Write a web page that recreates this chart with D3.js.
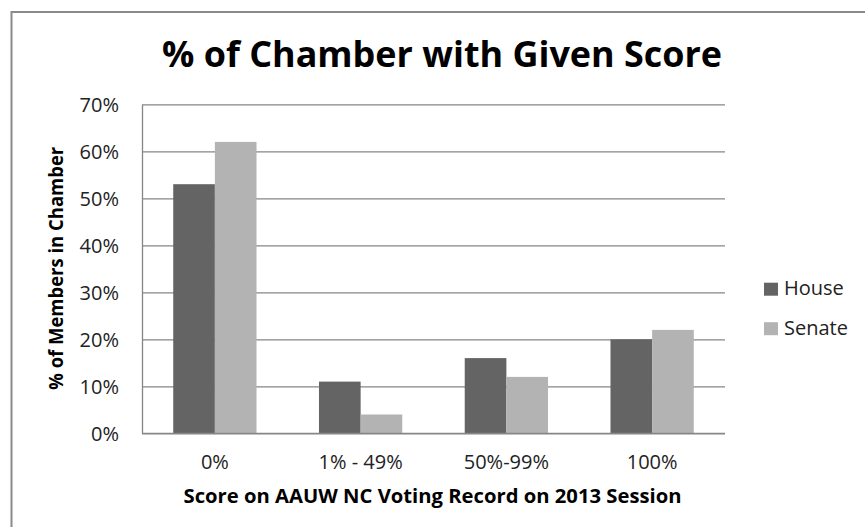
<!DOCTYPE html>
<html>
<head>
<meta charset="utf-8">
<script src="https://cdn.jsdelivr.net/npm/d3@7"></script>
<style>
	body { margin: 0; background: #fff; }
	svg { display: block; }
	text { font-family: "Open Sans", "DejaVu Sans", sans-serif; }
	.axis .domain { stroke: #868686; stroke-width: 1.3; }
	.axis .tick line { stroke: #868686; stroke-width: 1.3; }
	.axis .tick text { fill: #222; font-size: 20px; }
</style>
</head>
<body>
<div id="chart"></div>
<script>
// chart data
var categories = ["0%", "1% - 49%", "50%-99%", "100%"];
var seriesNames = ["House", "Senate"];
var house = [0.53, 0.11, 0.16, 0.20];
var senate = [0.62, 0.04, 0.12, 0.22];
var yTicks = [0, 0.1, 0.2, 0.3, 0.4, 0.5, 0.6, 0.7];
var seriesColors = ["#646464", "#b3b3b3"];

var width = 865, height = 527;
var plot = {left: 142, right: 725, top: 104.3, bottom: 433.3};

var svg = d3.select("#chart").append("svg")
	.attr("width", width)
	.attr("height", height);

// chart area border (runs off the right and bottom of the picture)
svg.append("rect")
	.attr("x", 11.5)
	.attr("y", 12)
	.attr("width", width + 10)
	.attr("height", height + 10)
	.attr("fill", "#fff")
	.attr("stroke", "#8a8a8a")
	.attr("stroke-width", 2);

var x0 = d3.scaleBand()
	.domain(categories)
	.range([plot.left, plot.right])
	.padding(0);

// excel style: gap width 150% of a bar
var barW = x0.bandwidth() / 3.5;
var x1 = d3.scaleBand()
	.domain(seriesNames)
	.range([0, barW * 2]);

var y = d3.scaleLinear()
	.domain([0, 0.7])
	.range([plot.bottom, plot.top]);

// gridlines + y labels
var yAxis = svg.append("g")
	.attr("class", "axis y-axis")
	.attr("transform", "translate(" + plot.left + ",0)")
	.call(d3.axisLeft(y)
		.tickValues(yTicks)
		.tickFormat(d3.format(".0%"))
		.tickSize(-(plot.right - plot.left))
		.tickSizeOuter(0)
		.tickPadding(23));
yAxis.selectAll(".tick text")
	.attr("dy", "0.36em");

// bars
var rows = categories.map(function(c, i) {
	return {cat: c, values: [
		{name: seriesNames[0], v: house[i]},
		{name: seriesNames[1], v: senate[i]}
	]};
});

var groups = svg.append("g")
	.attr("class", "bars")
	.selectAll("g")
	.data(rows)
	.enter()
		.append("g")
		.attr("transform", function(d) {
			return "translate(" + (x0(d.cat) + x0.bandwidth() / 2 - barW) + ",0)";
		});

groups.selectAll("rect")
	.data(function(d) { return d.values; })
	.enter()
		.append("rect")
		.attr("x", function(d) { return x1(d.name); })
		.attr("y", function(d) { return y(d.v); })
		.attr("width", x1.bandwidth())
		.attr("height", function(d) { return y(0) - y(d.v); })
		.attr("fill", function(d, i) { return seriesColors[i]; });

// x axis
var xAxis = svg.append("g")
	.attr("class", "axis x-axis")
	.attr("transform", "translate(0," + plot.bottom + ")")
	.call(d3.axisBottom(x0)
		.tickSize(0)
		.tickPadding(22));
xAxis.select(".domain")
	.attr("d", "M" + plot.left + ",0H" + plot.right);

// titles
svg.append("text")
	.attr("class", "title")
	.attr("x", 442)
	.attr("y", 66.7)
	.attr("text-anchor", "middle")
	.attr("textLength", 560)
	.attr("lengthAdjust", "spacingAndGlyphs")
	.style("font-size", "35px")
	.style("font-weight", "bold")
	.style("fill", "#000")
	.text("% of Chamber with Given Score");

svg.append("text")
	.attr("class", "x-title")
	.attr("x", 432.5)
	.attr("y", 502.7)
	.attr("text-anchor", "middle")
	.attr("textLength", 498)
	.attr("lengthAdjust", "spacingAndGlyphs")
	.style("font-size", "19px")
	.style("font-weight", "bold")
	.style("fill", "#000")
	.text("Score on AAUW NC Voting Record on 2013 Session");

svg.append("text")
	.attr("class", "y-title")
	.attr("transform", "translate(63,268.3) rotate(-90)")
	.attr("text-anchor", "middle")
	.attr("textLength", 243)
	.attr("lengthAdjust", "spacingAndGlyphs")
	.style("font-size", "19px")
	.style("font-weight", "bold")
	.style("fill", "#000")
	.text("% of Members in Chamber");

// legend
var legend = svg.append("g")
	.attr("class", "legend")
	.selectAll("g")
	.data(seriesNames)
	.enter()
		.append("g")
		.attr("transform", function(d, i) { return "translate(764," + (282.7 + i * 39.5) + ")"; });
legend.append("rect")
	.attr("width", 14)
	.attr("height", 13)
	.attr("fill", function(d, i) { return seriesColors[i]; });
legend.append("text")
	.attr("x", 20)
	.attr("y", 12.5)
	.style("font-size", "20px")
	.style("fill", "#222")
	.text(function(d) { return d; });
</script>
</body>
</html>
